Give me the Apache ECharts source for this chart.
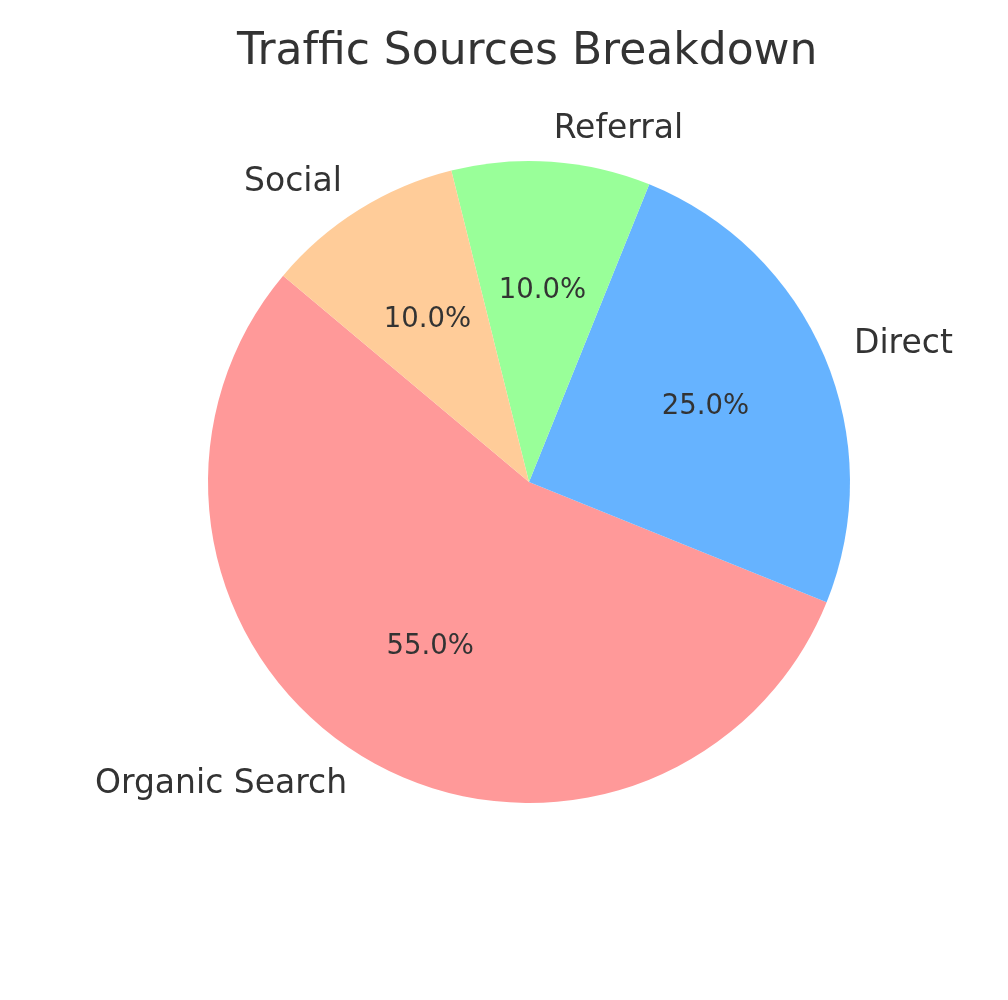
<!DOCTYPE html>
<html>
<head>
<meta charset="utf-8">
<script src="https://cdn.jsdelivr.net/npm/echarts@6/dist/echarts.min.js"></script>
<style>html,body{margin:0;padding:0;background:#fff;}#chart{width:1008px;height:1000px;}</style>
</head>
<body>
<div id="chart"></div>
<script>
const categories = ['Organic Search', 'Direct', 'Referral', 'Social'];
const values = [55, 25, 10, 10];
const colors = ['#ff9999', '#66b3ff', '#99ff99', '#ffcc99'];
const titleText = 'Tra\u200Cf\u200Cfic Sources Breakdown';

const R = 321;
const center = [529, 482];
const font = 'DejaVu Sans';
const textColor = '#333333';

const data = categories.map((c, i) => ({ name: c, value: values[i], itemStyle: { color: colors[i] } }));
const total = values.reduce((a, b) => a + b, 0);

const chart = echarts.init(document.getElementById('chart'), null, { renderer: 'canvas' });
chart.setOption({
  backgroundColor: '#ffffff',
  animation: false,
  title: {
    text: titleText,
    left: 232,
    top: 26,
    textStyle: { fontFamily: font, fontSize: 44, fontWeight: 'normal', color: textColor }
  },
  series: [
    {
      type: 'pie',
      center: center,
      radius: [0, R],
      startAngle: 140,
      clockwise: false,
      avoidLabelOverlap: false,
      silent: true,
      data: data,
      itemStyle: { borderWidth: 0 },
      label: {
        show: true,
        position: 'outside',
        formatter: '{b}',
        fontFamily: font,
        fontSize: 33,
        color: textColor,
        padding: [2, 0, 0, 0],
        distanceToLabelLine: 0
      },
      labelLine: { show: false, length: R * 0.1, length2: 0 },
      emphasis: { disabled: true }
    },
    {
      type: 'pie',
      center: center,
      radius: [0, R * 1.176],
      startAngle: 140,
      clockwise: false,
      avoidLabelOverlap: false,
      silent: true,
      z: 5,
      data: categories.map((c, i) => ({ name: c, value: values[i] })),
      itemStyle: { color: 'rgba(0,0,0,0)', borderWidth: 0 },
      label: {
        show: true,
        position: 'inside',
        formatter: (p) => (p.value / total * 100).toFixed(1) + '%',
        fontFamily: font,
        fontSize: 27.5,
        color: textColor
      },
      labelLine: { show: false },
      emphasis: { disabled: true }
    }
  ]
});
</script>
</body>
</html>
